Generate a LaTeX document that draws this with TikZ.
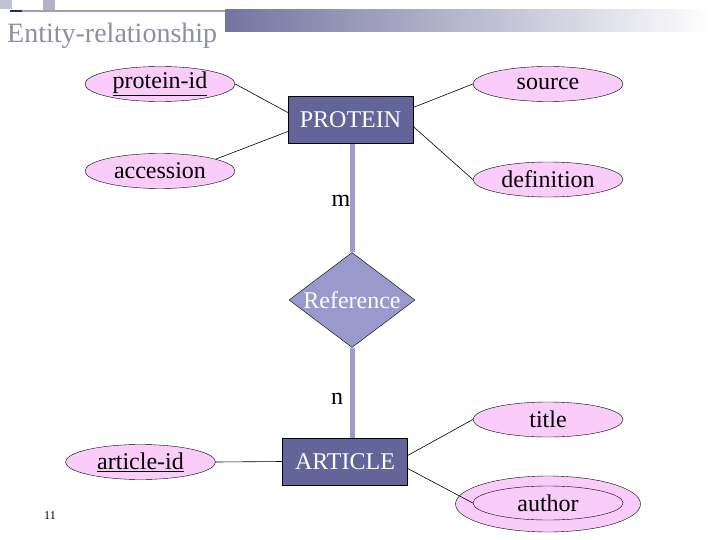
\documentclass[tikz,border=0pt]{standalone}
\usepackage{fontspec}
\setmainfont{Liberation Serif}
\usepackage{tikz}
\usetikzlibrary{shapes,backgrounds}

\definecolor{attrpink}{RGB}{250,204,250}
\definecolor{entblue}{RGB}{99,101,154}
\definecolor{relblue}{RGB}{153,153,204}
\definecolor{linkblue}{RGB}{156,156,204}
\definecolor{headgray}{RGB}{140,140,172}
\definecolor{headbar}{RGB}{116,116,160}
\definecolor{headnavy}{RGB}{40,40,110}

\begin{document}
\begin{tikzpicture}[x=1pt,y=-1pt]
        \tikzstyle{attr}=[ellipse, draw=black, fill=attrpink, minimum width=150, minimum height=35, inner sep=0pt, font=\fontsize{24}{28}\selectfont]
        \tikzstyle{entity}=[rectangle, draw=black, fill=entblue, text=white, minimum width=125, minimum height=47, inner sep=0pt, font=\fontsize{24}{28}\selectfont]
        \tikzstyle{rel}=[diamond, draw=black, fill=relblue, text=white, aspect=1.33, minimum width=126, minimum height=95, inner sep=0pt, font=\fontsize{24}{28}\selectfont]
        \tikzstyle{card}=[inner sep=0pt, font=\fontsize{24}{28}\selectfont]
        \tikzstyle{thin}=[draw=black, line width=0.6pt]
        \tikzstyle{thick}=[draw=linkblue, line width=5pt]
        \useasboundingbox (0,0) rectangle (720,540);
        % header
        \fill [headbar!45] (0,0) rectangle (12,9);
        \fill [headbar!55] (43,0) rectangle (55,10);
        \draw [headnavy, line width=1.5pt] (10,11) -- (22,11);
        \draw [headnavy, line width=1.5pt] (53,11) -- (60,11);
        \draw [headbar!70, line width=1.2pt] (22,11) -- (225,11);
        \shade [left color=headbar, right color=white] (225,10) rectangle (713,32);
        \node [anchor=base west, inner sep=0pt, text=headgray, font=\fontsize{28}{32}\selectfont] (head) at (7,43) {Entity-relationship};
        \begin{scope}
          \node [entity] (protein) at (350.5,119.5) {PROTEIN};
          \node [rel] (reference) at (352,300) {Reference};
          \node [entity] (article) at (345,461.5) {ARTICLE};
          \node [attr] (proteinid) at (160,84) {\underline{protein-id}};
          \node [attr] (accession) at (160,171) {accession};
          \node [attr] (source) at (548,84) {source};
          \node [attr] (definition) at (548,179.5) {definition};
          \node [attr] (articleid) at (140.5,462) {\underline{article-id}};
          \node [attr] (title) at (548,419.5) {title};
          \node [attr, minimum width=185, minimum height=56] (authorx) at (548,504) {};
          \node [attr, minimum height=34] (author) at (548,503) {author};
          \node [card] (m) at (341,201) {m};
          \node [card] (n) at (337,399) {n};
          \node [inner sep=0pt, font=\fontsize{12}{14}\selectfont] (page) at (50,516) {11};
        \end{scope}
        \begin{pgfonlayer}{background}
          \draw [thick] (reference.north |- protein.south) -- (reference.north);
          \draw [thick] (reference.south) -- (reference.south |- article.north);
        \end{pgfonlayer}
        \draw [thin] (proteinid.east) -- ([yshift=7pt]protein.west);
        \draw [thin] (accession.12) -- ([yshift=-12pt]protein.west);
        \draw [thin] ([yshift=12pt]protein.east) -- (source.west);
        \draw [thin] ([yshift=-7pt]protein.east) -- (definition.west);
        \draw [thin] (articleid.east) -- (article.west);
        \draw [thin] ([yshift=6pt]article.east) -- (title.west);
        \draw [thin] ([yshift=-7pt]article.east) -- (author.west);
      \end{tikzpicture}
\end{document}
